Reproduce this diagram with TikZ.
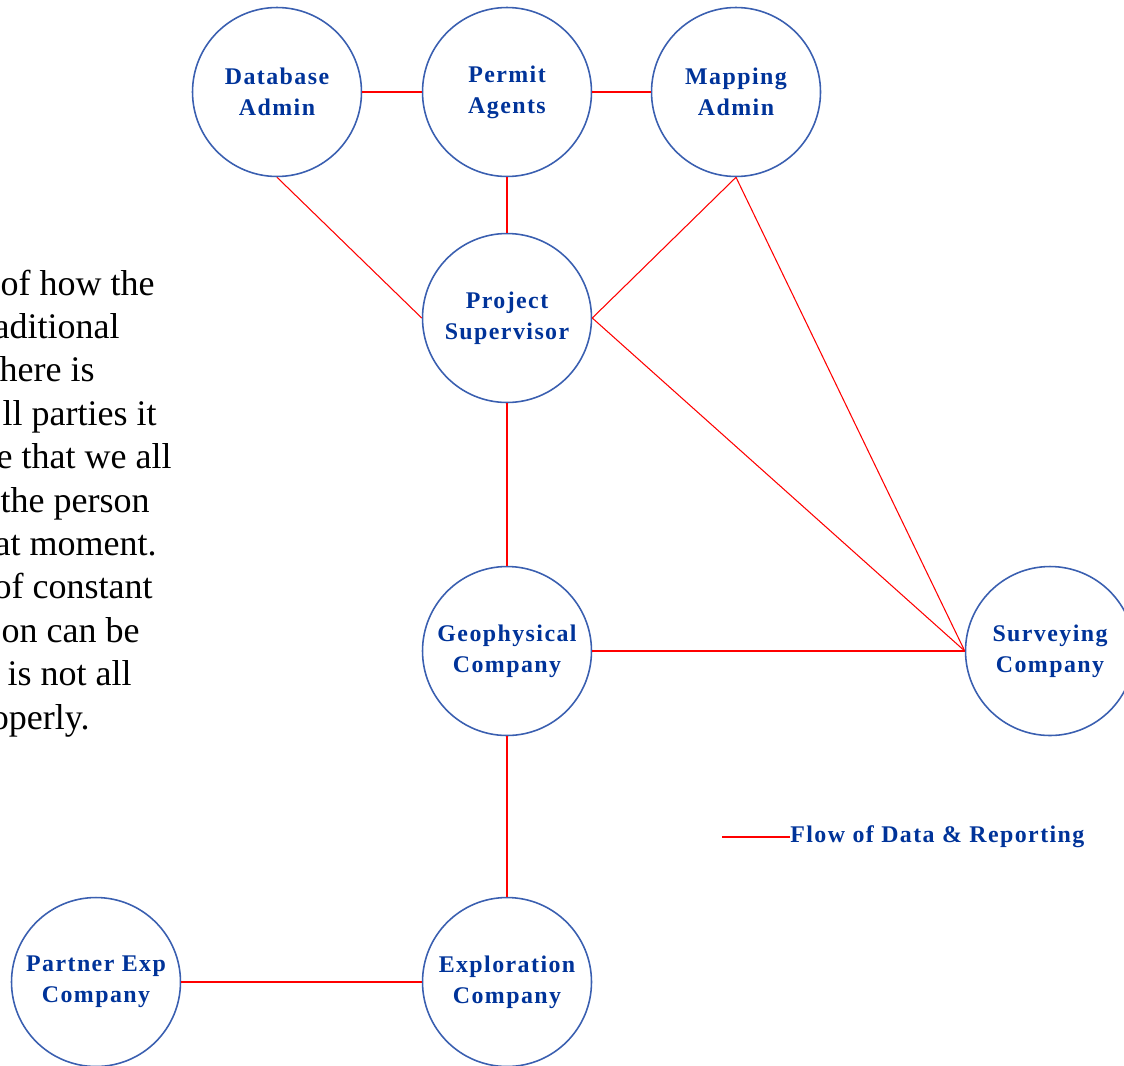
\documentclass[tikz,border=0pt]{standalone}
\usepackage{fontspec}
\usepackage[x11names, rgb]{xcolor}
\usepackage{tikz}
\usetikzlibrary{positioning}
\newfontfamily\rolefont{Liberation Serif}[LetterSpace=6]
\newfontfamily\notefont{Liberation Serif}
\definecolor{rolename}{RGB}{0,51,153}
\definecolor{roleline}{RGB}{58,95,176}
\definecolor{flowred}{RGB}{255,0,0}
\tikzset{
x=0.02cm, y=-0.02cm, % one unit is one pixel of the page
role/.style={circle, draw=roleline, line width=0.9pt, minimum size=3.38cm, inner sep=0pt,
  align=center, text=rolename, font=\rolefont\bfseries\fontsize{13.6}{17.6}\selectfont}, % the parties
flow/.style={draw=flowred, line width=0.6pt}, % data and reports between parties
note/.style={inner sep=0pt, font=\notefont\fontsize{20.5}{26}\selectfont}, % cut-off text on the left
key/.style={inner sep=0pt, text=rolename, font=\rolefont\bfseries\fontsize{13.6}{17.6}\selectfont}
}
\begin{document}
\begin{tikzpicture}
    \clip (0,0) rectangle (1124,1065);
    \node[role] (db) at (277,92) {Database\\Admin};
    \node[role] (pa) at (507,92) {Permit\\Agents};
    \node[role] (ma) at (736,92) {Mapping\\Admin};
    \node[role] (ps) at (507,318) {Project\\Supervisor};
    \node[role] (gc) at (507,651) {Geophysical\\Company};
    \node[role] (sc) at (1050,651) {Surveying\\Company};
    \node[role] (ec) at (507,982) {Exploration\\Company};
    \node[role] (pe) at (96,982) {Partner Exp\\Company};
    \draw[flow] (db) -- (pa);
    \draw[flow] (pa) -- (ma);
    \draw[flow] (pa) -- (ps);
    \draw[flow] (db.south) -- (ps.west);
    \draw[flow] (ma.south) -- (ps.east);
    \draw[flow] (ma.south) -- (sc.west);
    \draw[flow] (ps.east) -- (sc.west);
    \draw[flow] (ps) -- (gc);
    \draw[flow] (gc) -- (sc);
    \draw[flow] (gc) -- (ec);
    \draw[flow] (pe) -- (ec);
    % legend
    \node[key, anchor=west] (keytext) at (790,837) {Flow of Data \& Reporting};
    \coordinate (keyline) at (722,837);
    \draw[flow] (keyline) -- (keytext.west);
    % text running in from the left
    \foreach \r/\t [count=\i] in {155/of how the, 120/aditional, 95/here is, 157/ll parties it,
        172/e that we all, 150/the person, 157/at moment., 153/of constant, 140/on can be,
        132/is not all, 90/operly.}
        \node[note, anchor=base east] (note\i) at (\r,251.6+43.4*\i) {\t};
\end{tikzpicture}
\end{document}
